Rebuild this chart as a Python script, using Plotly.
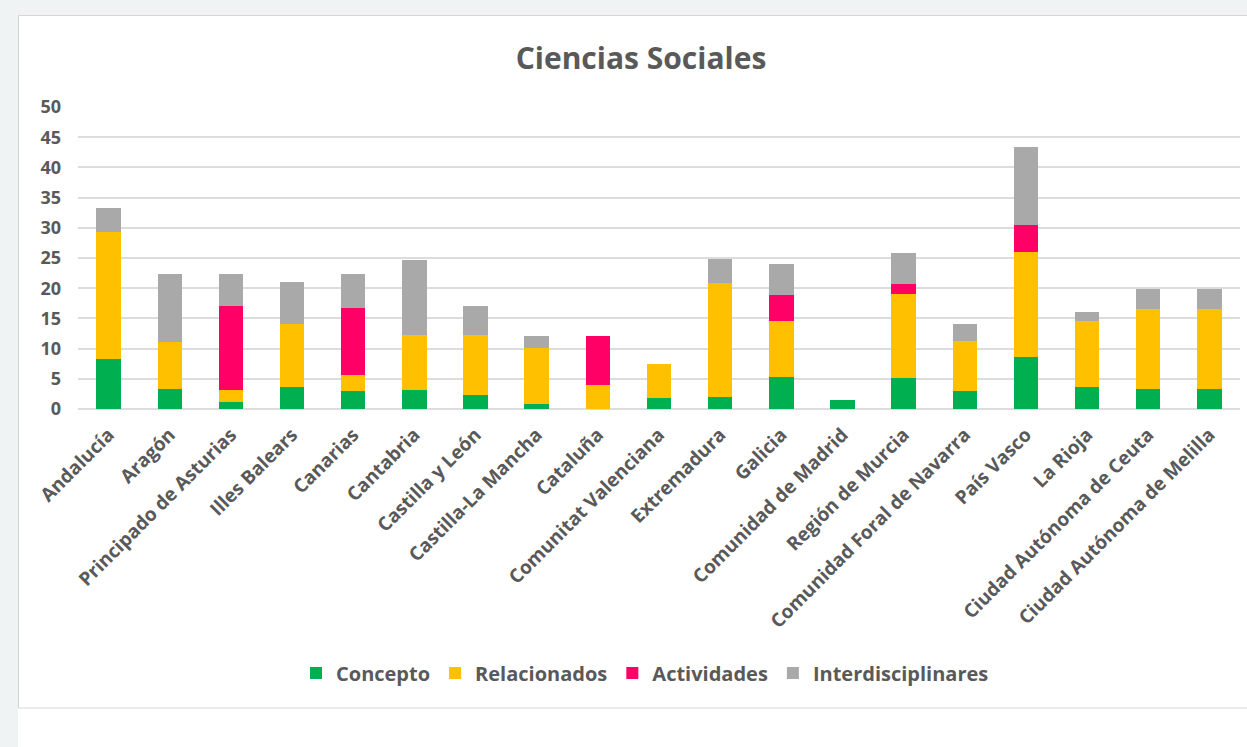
"""
Ciencias Sociales - barras apiladas por comunidad autónoma
"""
import plotly.graph_objects as go

comunidades = [
    "Andalucía", "Aragón", "Principado de Asturias", "Illes Balears", "Canarias",
    "Cantabria", "Castilla y León", "Castilla-La Mancha", "Cataluña",
    "Comunitat Valenciana", "Extremadura", "Galicia", "Comunidad de Madrid",
    "Región de Murcia", "Comunidad Foral de Navarra", "País Vasco", "La Rioja",
    "Ciudad Autónoma de Ceuta", "Ciudad Autónoma de Melilla",
]
concepto = [8.3, 3.3, 1.2, 3.6, 2.9, 3.2, 2.3, 0.9, 0.0, 1.9, 2.0, 5.3, 1.5,
            5.2, 2.9, 8.6, 3.6, 3.3, 3.3]
relacionados = [21.0, 7.8, 1.9, 10.5, 2.7, 9.0, 9.9, 9.2, 3.9, 5.6, 18.8, 9.2, 0.0,
                13.8, 8.4, 17.4, 11.0, 13.2, 13.2]
actividades = [0.0, 0.0, 14.0, 0.0, 11.2, 0.0, 0.0, 0.0, 8.2, 0.0, 0.0, 4.3, 0.0,
               1.7, 0.0, 4.4, 0.0, 0.0, 0.0]
interdisciplinares = [4.0, 11.3, 5.3, 6.9, 5.6, 12.4, 4.9, 2.0, 0.0, 0.0, 4.1, 5.2, 0.0,
                      5.2, 2.8, 13.0, 1.5, 3.3, 3.3]

series = [
    ("Concepto", concepto, "#00b050"),
    ("Relacionados", relacionados, "#ffc000"),
    ("Actividades", actividades, "#ff0066"),
    ("Interdisciplinares", interdisciplinares, "#a9a9a9"),
]

TXT = "#595959"
FONT = "Open Sans"

# márgenes del área de trazado (px)
W, H = 1247, 747
ML, MR, MT, MB = 78, 7, 107, 338
PW, PH = W - ML - MR, H - MT - MB


def px(x):
    return (x - ML) / PW


def py(y):
    return (H - MB - y) / PH


fig = go.Figure()
for name, vals, color in series:
    fig.add_trace(go.Bar(
        x=comunidades, y=vals, name=name,
        marker=dict(color=color, line=dict(width=0)),
    ))

# fondo de la "tarjeta"
shapes = [
    dict(type="rect", xref="paper", yref="paper", x0=px(0), x1=px(W), y0=py(0), y1=py(15),
         fillcolor="#f0f3f4", line_width=0, layer="below"),
    dict(type="rect", xref="paper", yref="paper", x0=px(0), x1=px(18), y0=py(0), y1=py(H),
         fillcolor="#f0f3f4", line_width=0, layer="below"),
    dict(type="line", xref="paper", yref="paper", x0=px(18), x1=px(W), y0=py(15.5), y1=py(15.5),
         line=dict(color="#d6d6d6", width=1), layer="below"),
    dict(type="line", xref="paper", yref="paper", x0=px(18), x1=px(W), y0=py(708), y1=py(708),
         line=dict(color="#d6d6d6", width=1), layer="below"),
    dict(type="line", xref="paper", yref="paper", x0=px(18.5), x1=px(18.5), y0=py(15), y1=py(708),
         line=dict(color="#d6d6d6", width=1), layer="below"),
]

fig.update_layout(
    width=W, height=H,
    barmode="stack",
    bargap=0.6,
    paper_bgcolor="white",
    plot_bgcolor="white",
    margin=dict(l=ML, r=MR, t=MT, b=MB),
    shapes=shapes,
    font=dict(family=FONT, color=TXT),
    title=dict(text="Ciencias Sociales",
               font=dict(size=30, color=TXT, family=FONT, weight="bold"),
               xref="container", x=641 / W, xanchor="center",
               yref="container", y=1 - 58 / H, yanchor="middle"),
    legend=dict(orientation="h", xref="container", x=645 / W, xanchor="center",
                yref="container", y=1 - 673 / H, yanchor="middle",
                font=dict(size=20, color=TXT, family=FONT, weight="bold"),
                traceorder="normal", itemclick=False),
)
fig.update_xaxes(tickangle=-45, tickfont=dict(size=19, color=TXT, family=FONT, weight="bold"),
                 showline=False, ticks="", showgrid=False, ticklabelstandoff=10)
fig.update_yaxes(range=[0, 50], dtick=5,
                 tickfont=dict(size=18, color=TXT, family=FONT, weight="bold"),
                 showgrid=True, gridcolor="#dcdcdc", gridwidth=1.5,
                 zeroline=True, zerolinecolor="#dcdcdc", zerolinewidth=1.5,
                 ticks="", ticklabelstandoff=16)

fig.write_html("out.html", config={"displayModeBar": False},
               post_script="document.body.style.margin='0';document.body.style.overflow='hidden';")
